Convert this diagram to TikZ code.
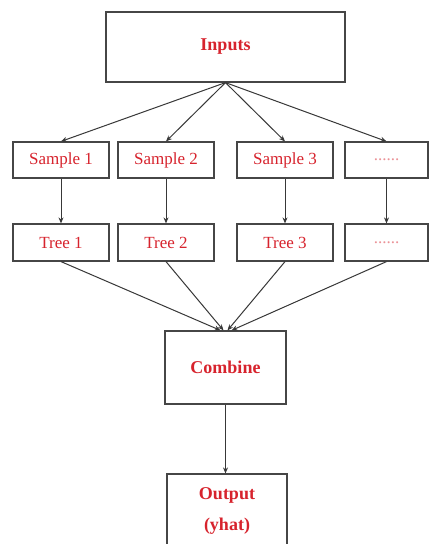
\documentclass[tikz,border=0pt]{standalone}
\usepackage{fontspec}
\setmainfont{Liberation Serif}
\usetikzlibrary{arrows.meta}
\definecolor{txtred}{RGB}{215,35,45}
\definecolor{boxline}{RGB}{70,70,70}
\tikzset{
  box/.style={draw=boxline, line width=1.2pt, rectangle, inner sep=0pt, text=txtred},
  small/.style={box, font=\fontsize{17}{20}\selectfont},
  big/.style={box, font=\bfseries\fontsize{18}{21}\selectfont},
  conn/.style={draw=boxline!80!black, line width=1pt, -{Stealth[length=6pt,width=5pt]}},
  dots/.style={text=txtred!50}
}
\begin{document}
\begin{tikzpicture}[x=1pt,y=-1pt]
\clip (0,0) rectangle (429,544);
\useasboundingbox (0,0) rectangle (429,544);
\fill[white] (0,0) rectangle (429,544);

\node[big, minimum width=239pt, minimum height=70pt] (in) at (225.5,47) {Inputs};

\node[small, minimum width=96pt, minimum height=36pt] (s1) at (61,160) {Sample 1};
\node[small, minimum width=96pt, minimum height=36pt] (s2) at (166,160) {Sample 2};
\node[small, minimum width=96pt, minimum height=36pt] (s3) at (285,160) {Sample 3};
\node[small, minimum width=83pt, minimum height=36pt, dots] (s4) at (386.5,160) {......};

\node[small, minimum width=96pt, minimum height=37pt] (t1) at (61,242.5) {Tree 1};
\node[small, minimum width=96pt, minimum height=37pt] (t2) at (166,242.5) {Tree 2};
\node[small, minimum width=96pt, minimum height=37pt] (t3) at (285,242.5) {Tree 3};
\node[small, minimum width=83pt, minimum height=37pt, dots] (t4) at (386.5,242.5) {......};

\node[big, minimum width=121pt, minimum height=73pt] (cb) at (225.5,367.5) {Combine};

\node[big, minimum width=120pt, minimum height=74pt, align=center] (out) at (227,511) {Output\\[10pt](yhat)};

\draw[conn] (in.south) -- (s1.north);
\draw[conn] (in.south) -- (s2.north);
\draw[conn] (in.south) -- (s3.north);
\draw[conn] (in.south) -- (s4.north);

\draw[conn] (s1) -- (t1);
\draw[conn] (s2) -- (t2);
\draw[conn] (s3) -- (t3);
\draw[conn] (s4) -- (t4);

\draw[conn] (t1.south) -- ([xshift=-5pt]cb.north);
\draw[conn] (t2.south) -- ([xshift=-2pt]cb.north);
\draw[conn] (t3.south) -- ([xshift=2pt]cb.north);
\draw[conn] (t4.south) -- ([xshift=6pt]cb.north);

\draw[conn] (cb.south) -- ([xshift=-1.5pt]out.north);
\end{tikzpicture}
\end{document}
